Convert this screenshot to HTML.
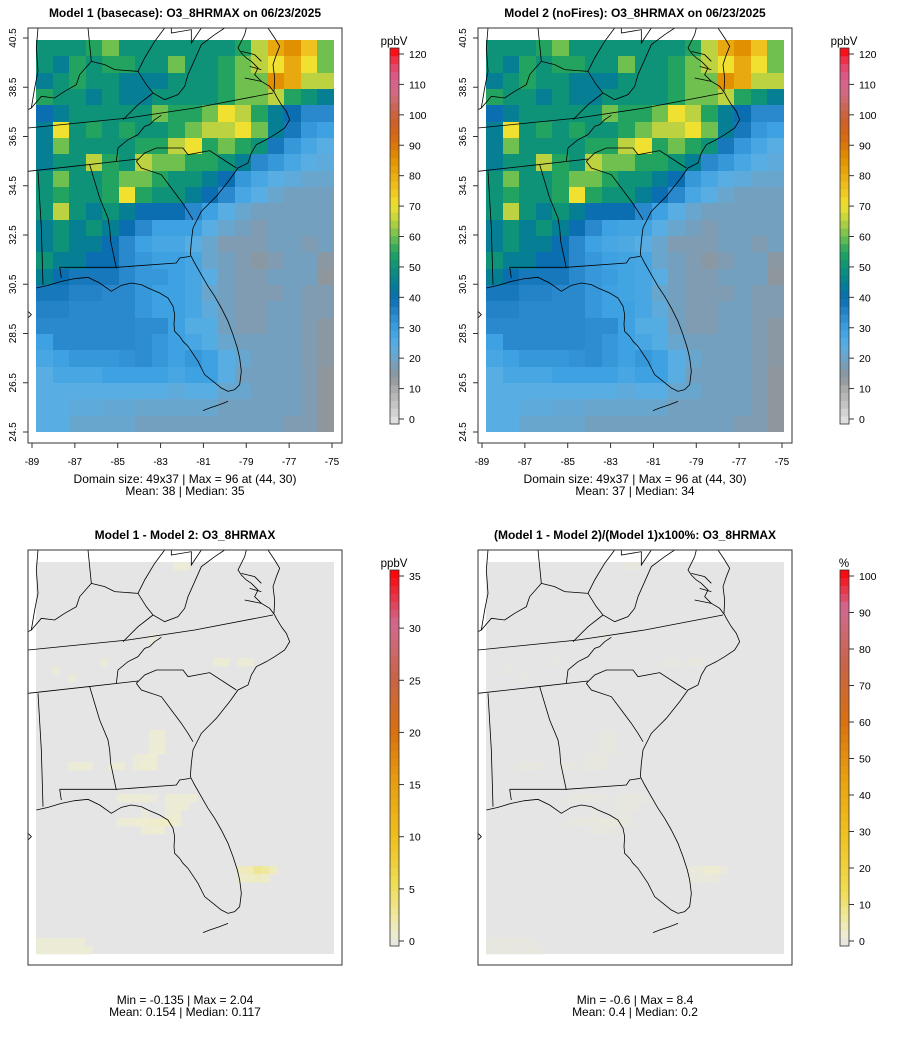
<!DOCTYPE html>
<html><head><meta charset="utf-8">
<style>
body{margin:0;background:#fff;width:900px;height:1045px;overflow:hidden;font-family:"Liberation Sans",sans-serif;}
svg text{font-family:"Liberation Sans",sans-serif;}
</style></head>
<body>
<svg id="fig" width="900" height="1045" xmlns="http://www.w3.org/2000/svg">
<defs>
<clipPath id="zclip"><rect x="0" y="0" width="942" height="1245"/></clipPath>
</defs>
</svg>
<script>
// ---- data ----
const model1Grid = [
[50,50,50,55,60,50,50,50,50,50,50,50,55,65,80,85,75,60],
[50,45,55,50,55,55,50,50,60,50,50,55,60,65,70,80,70,60],
[45,50,55,50,50,45,45,45,50,50,50,55,60,60,85,80,65,65],
[55,50,50,45,50,45,45,50,50,50,50,55,60,60,65,55,50,45],
[40,45,50,50,50,50,50,60,55,55,60,70,65,55,45,40,35,35],
[45,70,50,55,50,55,50,50,55,60,65,65,70,60,45,38,32,30],
[45,60,50,50,50,50,55,55,65,70,55,60,55,50,38,32,28,25],
[45,50,50,65,55,50,65,60,60,55,55,50,45,35,32,28,25,24],
[50,60,50,50,55,60,60,55,50,50,45,40,32,28,25,24,22,22],
[50,55,50,50,55,70,55,50,50,45,40,35,28,25,22,20,20,20],
[50,65,50,45,50,45,40,40,40,35,30,25,22,20,20,20,20,20],
[45,50,45,50,45,40,35,30,30,30,25,22,20,18,20,20,20,20],
[45,50,45,45,40,35,30,28,28,25,22,18,18,18,20,20,18,20],
[50,45,45,40,40,35,32,30,30,28,22,20,18,16,18,20,20,16],
[45,40,38,38,38,35,32,32,30,28,25,20,18,18,20,20,20,15],
[38,38,36,36,35,35,32,30,30,28,22,20,18,18,18,20,18,18],
[36,36,35,35,35,35,32,30,30,28,24,20,18,18,20,20,18,18],
[35,35,35,35,35,35,34,34,30,26,26,20,18,18,20,20,18,16],
[30,35,35,35,35,35,34,32,30,28,26,22,20,20,20,20,18,16],
[28,30,32,32,32,33,34,32,30,32,30,25,22,20,20,20,18,16],
[25,28,28,28,30,30,30,30,28,30,30,25,20,20,20,20,18,15],
[25,25,25,25,25,25,25,25,24,25,25,22,22,20,20,20,18,15],
[25,25,24,24,23,23,22,22,22,22,22,20,20,20,20,20,18,15],
[25,25,22,22,22,22,20,20,20,20,20,20,20,20,20,18,18,15]];
const model2Grid = [
[50,50,50,55,60,50,50,50,50,50,50,50,55,65,80,85,75,60],
[50,45,55,50,55,55,50,50,60,50,50,55,60,65,70,80,70,60],
[45,50,55,50,50,45,45,45,50,50,50,55,60,60,85,80,65,65],
[55,50,50,45,50,45,45,50,50,50,50,55,60,60,65,55,50,45],
[40,45,50,50,50,50,50,60,55,55,60,70,65,55,45,40,35,35],
[45,70,50,55,50,55,50,50,55,60,65,65,70,60,45,38,32,30],
[45,60,50,50,50,50,55,55,65,70,55,60,55,50,38,32,28,25],
[45,50,50,65,55,50,65,60,60,55,55,50,45,35,32,28,25,24],
[50,60,50,50,55,60,60,55,50,50,45,40,32,28,25,24,22,22],
[50,55,50,50,55,70,55,50,50,45,40,35,28,25,22,20,20,20],
[50,65,50,45,50,45,40,40,40,35,30,25,22,20,20,20,20,20],
[45,50,45,50,45,40,35,30,29,29,25,22,20,18,20,20,20,20],
[45,50,45,45,40,35,30,28,27,25,22,18,18,18,20,20,18,20],
[50,45,45,40,40,35,32,30,29,28,22,20,18,16,18,20,20,16],
[45,40,38,38,38,35,32,31,29,28,25,20,18,18,20,20,20,15],
[38,38,36,36,35,35,32,30,29,28,22,20,18,18,18,20,18,18],
[36,36,35,35,35,35,32,30,30,28,24,20,18,18,20,20,18,18],
[35,35,35,35,35,35,34,34,30,26,26,20,18,18,20,20,18,16],
[30,35,35,35,35,35,34,32,30,28,26,22,20,20,20,20,18,16],
[28,30,32,32,32,33,34,32,30,32,30,25,22,20,20,20,18,16],
[25,28,28,28,30,30,30,30,28,30,30,25,20,20,20,20,18,15],
[25,25,25,25,25,25,25,25,24,25,25,22,22,20,20,20,18,15],
[25,25,24,24,23,23,22,22,22,22,22,20,20,20,20,20,18,15],
[25,25,22,22,22,22,20,20,20,20,20,20,20,20,20,18,18,15]];
// diff cells: [col, row, value] on 37x49 grid
const diffCells = [
[17,0,0.4],[18,0,0.4],[14,9,0.3],[2,13,0.3],[4,14,0.3],[8,12,0.3],[22,12,0.4],[23,12,0.4],[25,12,0.4],[26,12,0.4],
[14,21,0.4],[15,21,0.4],[14,22,0.4],[15,22,0.4],[14,23,0.4],[15,23,0.5],[14,24,0.5],[13,24,0.4],[12,24,0.3],
[4,25,0.4],[5,25,0.4],[6,25,0.4],[9,25,0.4],[10,25,0.4],[12,25,0.4],[13,25,0.5],[14,25,0.5],
[10,29,0.4],[11,29,0.4],[12,29,0.4],[13,29,0.4],[14,29,0.3],[16,29,0.4],[17,29,0.4],[18,29,0.4],[19,29,0.4],
[16,30,0.4],[17,30,0.5],[18,30,0.4],[16,31,0.4],[17,31,0.4],[13,31,0.3],
[10,32,0.4],[11,32,0.4],[12,32,0.5],[13,32,0.5],[14,32,0.6],[15,32,0.7],[16,32,0.7],[17,32,0.5],
[13,33,0.4],[14,33,0.5],[15,33,0.5],
[25,38,0.8],[26,38,1.0],[27,38,1.6],[28,38,1.4],[29,38,0.8],[25,39,0.6],[26,39,0.7],[27,39,0.8],[28,39,0.7],
[0,47,0.4],[1,47,0.4],[2,47,0.4],[3,47,0.4],[4,47,0.4],[5,47,0.4],[0,48,0.4],[1,48,0.4],[2,48,0.4],[3,48,0.4],[4,48,0.4],[5,48,0.4],[6,48,0.4]];
const latTicks = [40.5,38.5,36.5,34.5,32.5,30.5,28.5,26.5,24.5];
const lonTicks = [-89,-87,-85,-83,-81,-79,-77,-75];
const ppbTicks = [0,10,20,30,40,50,60,70,80,90,100,110,120];
const diffTicks = [0,5,10,15,20,25,30,35];
const pctTicks = [0,10,20,30,40,50,60,70,80,90,100];

const NS="http://www.w3.org/2000/svg";
const svg=document.getElementById('fig');
function mk(tag,attrs,parent){const e=document.createElementNS(NS,tag);for(const k in attrs)e.setAttribute(k,attrs[k]);(parent||svg).appendChild(e);return e;}
function hex(c){return [parseInt(c.slice(1,3),16),parseInt(c.slice(3,5),16),parseInt(c.slice(5,7),16)];}
const o3Stops=[[0,'#e6e6e6'],[10,'#b0b0b0'],[15,'#8f969c'],[20,'#74a0c0'],[25,'#58aee2'],[30,'#3ea2e2'],[35,'#2a88cc'],[40,'#0a6eb0'],[45,'#067f94'],[50,'#0e9278'],[55,'#22a460'],[60,'#70c050'],[65,'#bcd240'],[70,'#f0e030'],[75,'#f0c220'],[80,'#e8a810'],[85,'#e09000'],[90,'#d87010'],[95,'#d06020'],[100,'#c86448'],[105,'#d06a80'],[110,'#d86090'],[115,'#e84060'],[120,'#ff0000']];
const diffStops=[[0,'#e5e5e5'],[1,'#eeecd2'],[3,'#efe79a'],[6,'#efdc50'],[10,'#f0c020'],[15,'#e8a010'],[20,'#d87010'],[25,'#c86448'],[30,'#d06a90'],[35,'#ff0000']];
const pctStops=[[0,'#e5e5e5'],[3,'#eeecd2'],[8,'#efe79a'],[15,'#efdc50'],[30,'#f0c020'],[45,'#e8a010'],[60,'#d87010'],[75,'#c86448'],[90,'#d06a90'],[100,'#ff0000']];
function colorOf(stops,v){if(v<=stops[0][0])return stops[0][1];for(let i=1;i<stops.length;i++){if(v<=stops[i][0]){const a=hex(stops[i-1][1]),b=hex(stops[i][1]);const t=(v-stops[i-1][0])/(stops[i][0]-stops[i-1][0]);return 'rgb('+a.map((x,j)=>Math.round(x+(b[j]-x)*t)).join(',')+')';}}return stops[stops.length-1][1];}

const mapPaths=[
"M25,780 L60,772 L100,760 L140,752 L180,748 L215,765 L250,790 L280,772 L310,765 L340,770 L360,780 L395,795 L420,810 L435,835 L440,860 L438,890 L440,910 L455,925 L465,940 L480,955 L490,970 L500,985 L510,1000 L520,1020 L530,1040 L555,1060 L580,1080 L600,1090 L620,1085 L635,1070 L640,1030 L635,990 L628,960 L615,920 L600,880 L580,840 L560,805 L540,775 L520,740 L500,705 L487,680 L490,640 L495,600 L510,570 L520,550 L545,525 L565,505 L585,480 L605,455 L630,420 L660,405 L670,375 L685,350 L715,335 L740,320 L770,300 L785,275 L775,250 L760,230 L745,205 L740,195 L725,175 L700,160 L680,140 L690,120 L670,100 L655,90 L640,75 L630,60 L640,40 L650,20 L655,0",
"M720,0 L740,30 L755,55 L745,80 L735,110 L740,150 L738,190",
"M640,70 L680,80 L700,100 M650,150 L700,160 M665,115 L700,125",
"M525,1148 L545,1140 L575,1130 L600,1120",
"M0,300 L300,270 L500,240 L735,195",
"M0,430 L180,410 L330,393",
"M265,400 L270,360 L300,335 L330,320 L350,295 L365,290 L380,275 L400,262",
"M325,400 L350,375 L385,360 L465,360 L480,380 L545,368 L625,420",
"M325,400 L340,420 L400,440 L430,480 L460,520 L480,550 L495,575",
"M185,410 L200,460 L215,510 L240,570 L245,600 L248,640 L265,720",
"M95,718 L265,718 L445,705 L455,690 L487,685",
"M30,430 L40,600 L45,770",
"M95,718 L100,750",
"M180,0 L190,100 L155,140 L145,170 L110,190 L80,210 L40,205 L10,240 L0,245",
"M190,100 L230,110 L260,125 L330,130 L355,170 L375,195 L410,215 L450,200 L470,175 L480,140 L500,95 L520,50 L560,20 L590,0",
"M330,130 L350,90 L380,40 L410,0",
"M375,195 L330,230 L285,275",
"M30,0 L25,60 L30,130 L20,180 L10,240",
"M430,0 L430,15 L490,5 L490,45 L520,0",
"M0,850 L10,860 L0,870"
];

function panel(px,py,name,title,grid,cells,stops,ticks,tmax,unit,lines,showAxes){
  const g=mk('g',{},svg);
  
  
  const mx=px+8, my=py+12, mw=298, mh=392;
  const hm=mk('g',{},g);
  
  
  if(grid){
    const rows=grid.length, cols=grid[0].length;
    grid.forEach((row,r)=>row.forEach((v,c)=>{
      const x0=mx+Math.round(c*mw/cols), x1=mx+Math.round((c+1)*mw/cols);
      const y0=my+Math.round(r*mh/rows), y1=my+Math.round((r+1)*mh/rows);
      const cell=mk('rect',{x:x0,y:y0,width:x1-x0,height:y1-y0,fill:colorOf(stops,v)},hm);
      
      
    }));
  } else {
    mk('rect',{x:mx,y:my,width:mw,height:mh,fill:colorOf(stops,0)},hm);
    cells.forEach(([c,r,v])=>{
      const x0=mx+c*mw/37, y0=my+r*mh/49;
      const cell=mk('rect',{x:x0.toFixed(1),y:y0.toFixed(1),width:(mw/37+0.3).toFixed(1),height:(mh/49+0.3).toFixed(1),fill:colorOf(stops,v*2)},hm);
      
      
    });
  }
  const ml=mk('g',{transform:`translate(${px},${py}) scale(${1/3})`,'clip-path':'url(#zclip)'},g);
  
  
  lines.forEach(d=>mk('path',{d:d,fill:'none',stroke:'#000','stroke-width':0.8,'vector-effect':'non-scaling-stroke'},ml));
  const bx=mk('rect',{x:px,y:py,width:314,height:415,fill:'none',stroke:'#333','stroke-width':1},g);
  
  
  const t=mk('text',{x:px+157,y:py-11,'text-anchor':'middle','font-size':12,'font-weight':'bold'},g);
  t.textContent=title;
  
  
  if(showAxes){
    const ax=mk('g',{},g);
    
    
    const lonX=l=>px+4+(l+89)*300/14;
    const latY=l=>py+10+(40.5-l)*394/16;
    mk('line',{x1:lonX(-89),x2:lonX(-75),y1:py+415,y2:py+415,stroke:'#333'},ax);
    lonTicks.forEach(l=>{mk('line',{x1:lonX(l),x2:lonX(l),y1:py+415,y2:py+420,stroke:'#333'},ax);
      const tx=mk('text',{x:lonX(l),y:py+437,'text-anchor':'middle','font-size':10},ax);tx.textContent=l;
      
      });
    mk('line',{x1:px,x2:px,y1:latY(40.5),y2:latY(24.5),stroke:'#333'},ax);
    latTicks.forEach(l=>{mk('line',{x1:px-5,x2:px,y1:latY(l),y2:latY(l),stroke:'#333'},ax);
      const tx=mk('text',{x:px-12,y:latY(l),'text-anchor':'middle','font-size':10,transform:`rotate(-90 ${px-12} ${latY(l)})`},ax);tx.textContent=l;
      
      });
  }
  const cb=mk('g',{},g);
  
  
  const cx=px+362, ctop=py+20, cbot=py+396;
  const v0y=cbot-5, vmy=ctop+6;
  const vy=v=>v0y-(v/tmax)*(v0y-vmy);
  const n=48;
  for(let i=0;i<n;i++){
    const v=tmax*(i+0.5)/n;
    const y0=cbot-(i+1)*(cbot-ctop)/n;
    mk('rect',{x:cx,y:y0.toFixed(2),width:9,height:((cbot-ctop)/n+0.4).toFixed(2),fill:colorOf(stops,v)},cb);
  }
  mk('rect',{x:cx,y:ctop,width:9,height:cbot-ctop,fill:'none',stroke:'#333','stroke-width':0.8},cb);
  ticks.forEach(v=>{mk('line',{x1:cx+9,x2:cx+14,y1:vy(v),y2:vy(v),stroke:'#333'},cb);
    const tx=mk('text',{x:cx+19,y:vy(v)+4,'font-size':10.5},cb);tx.textContent=v;
    
    });
  const ut=mk('text',{x:cx+4,y:ctop-3,'text-anchor':'middle','font-size':11.5},cb);ut.textContent=unit;
  
  
  return g;
}
function caption(x,y,lines){
  lines.forEach((s,i)=>{const t=mk('text',{x:x,y:y+i*12,'text-anchor':'middle','font-size':12},svg);t.textContent=s;
    
    });
}
panel(28,28,'model1-panel','Model 1 (basecase): O3_8HRMAX on 06/23/2025',model1Grid,null,o3Stops,ppbTicks,120,'ppbV',mapPaths,true);
panel(478,28,'model2-panel','Model 2 (noFires): O3_8HRMAX on 06/23/2025',model2Grid,null,o3Stops,ppbTicks,120,'ppbV',mapPaths,true);
panel(28,550,'difference-panel','Model 1 - Model 2: O3_8HRMAX',null,diffCells,diffStops,diffTicks,35,'ppbV',mapPaths,false);
panel(478,550,'percent-difference-panel','(Model 1 - Model 2)/(Model 1)x100%: O3_8HRMAX',null,diffCells,pctStops,pctTicks,100,'%',mapPaths,false);
caption(185,483,['Domain size: 49x37 | Max = 96 at (44, 30)','Mean: 38 |  Median: 35']);
caption(635,483,['Domain size: 49x37 | Max = 96 at (44, 30)','Mean: 37 |  Median: 34']);
caption(185,1004,['Min = -0.135 | Max = 2.04','Mean: 0.154 |  Median: 0.117']);
caption(635,1004,['Min = -0.6 | Max = 8.4','Mean: 0.4 |  Median: 0.2']);
</script>
</body></html>
